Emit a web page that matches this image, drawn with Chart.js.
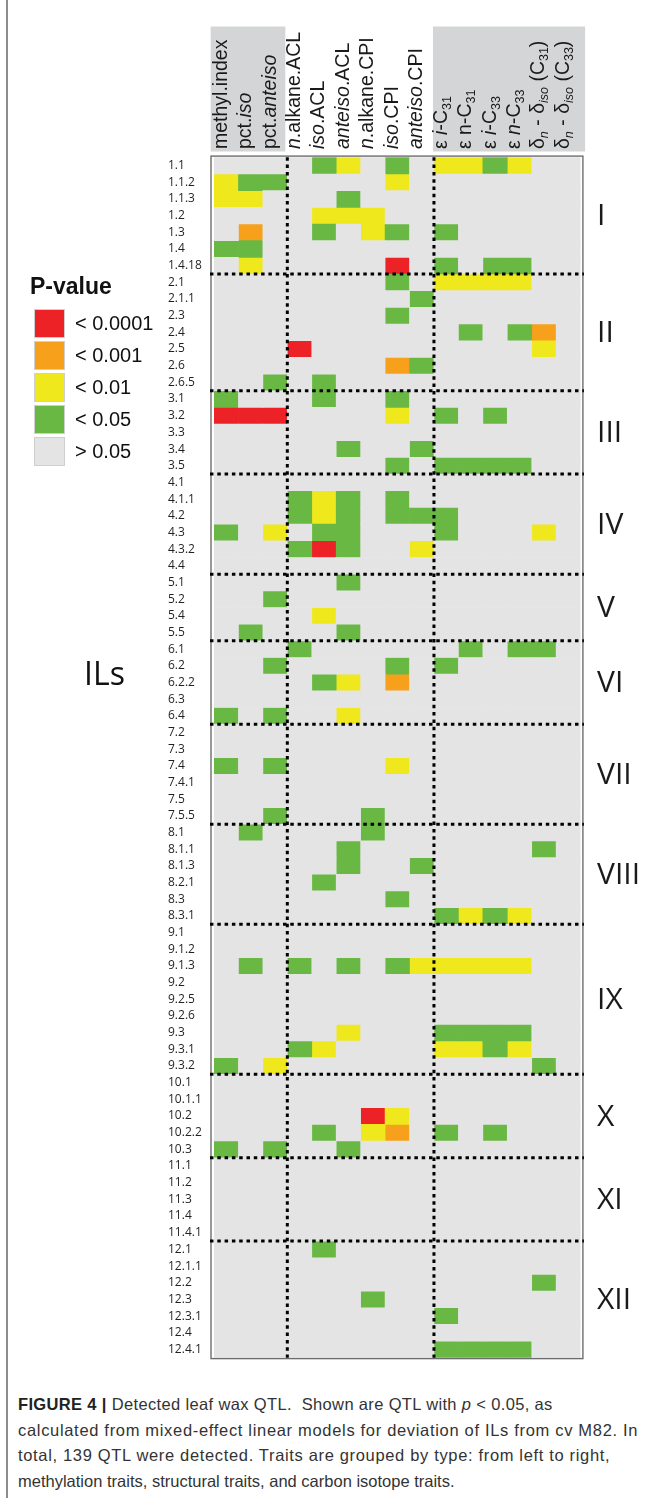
<!DOCTYPE html>
<html>
<head>
<meta charset="utf-8">
<script src="https://cdn.jsdelivr.net/npm/chart.js@4"></script>
<style>
  html, body { margin: 0; padding: 0; background: #fff; }
  #page { position: relative; width: 655px; height: 1498px; overflow: hidden; }
  #frame { position: absolute; left: 6px; top: 0; width: 2px; height: 1498px; background: #8c8c8c; }
  #qtl { position: absolute; left: 0; top: 0; }
  #caption {
    position: absolute; left: 18px; top: 1392px; white-space: nowrap;
    font: 16.5px "Liberation Sans", Arial, sans-serif; line-height: 25.5px; color: #333;
  }
  #caption div { height: 25.5px; }
  #caption b { color: #222; }
  #caption .l1 { letter-spacing: 0.35px; }
  #caption .l2 { letter-spacing: 0.68px; }
  #caption .l3 { letter-spacing: 0.66px; }
</style>
</head>
<body>
<div id="page">
  <div id="frame"></div>
  <canvas id="qtl" width="655" height="1365"></canvas>
  <div id="caption">
    <div class="l1"><b>FIGURE 4 |</b> Detected leaf wax QTL.&nbsp; Shown are QTL with <i>p</i> &lt; 0.05, as</div>
    <div class="l2">calculated from mixed-effect linear models for deviation of ILs from cv M82. In</div>
    <div class="l3">total, 139 QTL were detected. Traits are grouped by type: from left to right,</div>
    <div class="l4">methylation traits, structural traits, and carbon isotope traits.</div>
  </div>
</div>
<script>
// Traits (columns); <i> and <sub> mark italic and subscript parts of a label
const traits = [
  'methyl.index', 'pct.<i>iso</i>', 'pct.<i>anteiso</i>',
  '<i>n</i>.alkane.ACL', '<i>iso</i>.ACL', '<i>anteiso</i>.ACL',
  '<i>n</i>.alkane.CPI', '<i>iso</i>.CPI', '<i>anteiso</i>.CPI',
  'ε <i>i</i>-C<sub>31</sub>', 'ε n-C<sub>31</sub>', 'ε <i>i</i>-C<sub>33</sub>', 'ε <i>n</i>-C<sub>33</sub>',
  'δ<sub><i>n</i></sub> - δ<sub><i>iso</i></sub> (C<sub>31</sub>)',
  'δ<sub><i>n</i></sub> - δ<sub><i>iso</i></sub> (C<sub>33</sub>)'
];

// Trait groups: methylation, structural, carbon isotope (number of columns each)
const traitGroups = [3, 6, 6];

// Introgression lines (rows)
const ils = [
  '1.1', '1.1.2', '1.1.3', '1.2', '1.3', '1.4', '1.4.18',
  '2.1', '2.1.1', '2.3', '2.4', '2.5', '2.6', '2.6.5',
  '3.1', '3.2', '3.3', '3.4', '3.5',
  '4.1', '4.1.1', '4.2', '4.3', '4.3.2', '4.4',
  '5.1', '5.2', '5.4', '5.5',
  '6.1', '6.2', '6.2.2', '6.3', '6.4',
  '7.2', '7.3', '7.4', '7.4.1', '7.5', '7.5.5',
  '8.1', '8.1.1', '8.1.3', '8.2.1', '8.3', '8.3.1',
  '9.1', '9.1.2', '9.1.3', '9.2', '9.2.5', '9.2.6', '9.3', '9.3.1', '9.3.2',
  '10.1', '10.1.1', '10.2', '10.2.2', '10.3',
  '11.1', '11.2', '11.3', '11.4', '11.4.1',
  '12.1', '12.1.1', '12.2', '12.3', '12.3.1', '12.4', '12.4.1'
];

// Chromosomes and how many ILs each holds
const chromosomes = ['I', 'II', 'III', 'IV', 'V', 'VI', 'VII', 'VIII', 'IX', 'X', 'XI', 'XII'];
const chromosomeSizes = [7, 7, 5, 6, 4, 5, 6, 6, 9, 5, 5, 7];

// P-value classes, index = code used in the significance rows
const pLevels = ['> 0.05', '< 0.05', '< 0.01', '< 0.001', '< 0.0001'];

// Significance class per IL (one digit per trait, same order as traits)
const significance = [
  '000012010221200', '211000020000000', '220001000000000', '000022200000000',
  '030010210100000', '110000000000000', '020000040101100',
  '000000010222200', '000000001000000', '000000010000000', '000000000010130',
  '000400000000020', '000000031000000', '001010000000000',
  '100010010000000', '444000020101000', '000000000000000', '000001001000000',
  '000000010111100',
  '000000000000000', '000121010000000', '000121011100000', '102011000100020',
  '000141002000000', '000000000000000',
  '000001000000000', '001000000000000', '000020000000000', '010001000000000',
  '000100000010110', '001000010100000', '000012030000000', '000000000000000',
  '101002000000000',
  '000000000000000', '000000000000000', '101000020000000', '000000000000000',
  '000000000000000', '001000100000000',
  '010000100000000', '000001000000010', '000001001000000', '000010000000000',
  '000000010000000', '000000000121200',
  '000000000000000', '000000000000000', '010101012222200', '000000000000000',
  '000000000000000', '000000000000000', '000002000111100', '000120000221200',
  '102000000000010',
  '000000000000000', '000000000000000', '000000420000000', '000010230101000',
  '101001000000000',
  '000000000000000', '000000000000000', '000000000000000', '000000000000000',
  '000000000000000',
  '000010000000000', '000000000000000', '000000000000010', '000000100000000',
  '000000000100000', '000000000000000', '000000000111100'
];

// ---- styling ----
const levelColors = ['#e4e4e4', '#6ab844', '#efe81c', '#f6a01c', '#ec2227'];
const headerShade = '#d3d5d6';
const textColor = '#1a1a1a';
const SANS = '"Liberation Sans", Arial, sans-serif';
const ROUND = '"Open Sans", sans-serif';

// one floating horizontal bar per cell, one dataset per P-value class
const datasets = pLevels.map((label, k) => {
  const data = [];
  ils.forEach((il, r) => {
    for (let c = 0; c < traits.length; c++) {
      if (Number(significance[r][c]) === k) data.push({ y: il, x: [c, c + 1] });
    }
  });
  return { label, data, backgroundColor: levelColors[k], borderWidth: 0 };
});

function parseRich(s) {
  const out = [];
  const re = /<(\/?)(i|sub)>/g;
  let italic = false, sub = false, last = 0, m;
  while ((m = re.exec(s))) {
    if (m.index > last) out.push({ t: s.slice(last, m.index), italic, sub });
    if (m[2] === 'i') italic = !m[1]; else sub = !m[1];
    last = re.lastIndex;
  }
  if (last < s.length) out.push({ t: s.slice(last), italic, sub });
  return out;
}

function dotted(ctx, x1, y1, x2, y2) {
  ctx.save();
  ctx.strokeStyle = '#000';
  ctx.lineWidth = 3;
  ctx.setLineDash([3.5, 3.8]);
  ctx.beginPath();
  ctx.moveTo(x1, y1);
  ctx.lineTo(x2, y2);
  ctx.stroke();
  ctx.restore();
}

const decorations = {
  id: 'decorations',
  afterDatasetsDraw(chart) {
    const { ctx, chartArea: a, scales: { x, y } } = chart;
    const rowH = (a.bottom - a.top) / ils.length;
    const boxL = a.left - 3, boxR = a.right + 2.3;

    // frame round the grid
    ctx.save();
    ctx.strokeStyle = '#6d6d6d';
    ctx.lineWidth = 1.4;
    ctx.strokeRect(boxL, a.top - 1.2, boxR - boxL, a.bottom - a.top + 2);
    ctx.restore();

    // trait-group separators
    let col = 0;
    traitGroups.slice(0, -1).forEach(n => {
      col += n;
      const px = x.getPixelForValue(col);
      dotted(ctx, px, a.top, px, a.bottom);
    });

    // chromosome separators and labels
    let row = 0;
    chromosomes.forEach((name, g) => {
      const start = row;
      row += chromosomeSizes[g];
      if (g < chromosomes.length - 1) {
        const py = y.getPixelForValue(row) - rowH / 2;
        dotted(ctx, boxL - 1, py, boxR + 1, py);
      }
      const cy = (y.getPixelForValue(start) + y.getPixelForValue(row - 1)) / 2;
      ctx.save();
      ctx.fillStyle = textColor;
      ctx.font = '30px ' + ROUND;
      ctx.textAlign = 'left';
      ctx.textBaseline = 'middle';
      ctx.fillText(name, 597, cy + 1);
      ctx.restore();
    });
  },
  beforeDraw(chart) {
    const { ctx, chartArea: a, scales: { x } } = chart;
    // header shading behind methylation and isotope trait names
    const g1 = traitGroups[0], g2 = traitGroups[0] + traitGroups[1];
    ctx.save();
    ctx.fillStyle = headerShade;
    ctx.fillRect(a.left - 3.3, 26.5, x.getPixelForValue(g1) - 2 - (a.left - 3.3), 125);
    ctx.fillRect(x.getPixelForValue(g2) - 1, 26.5, a.right + 4.5 - (x.getPixelForValue(g2) - 1), 125);
    ctx.restore();

    // rotated trait names
    traits.forEach((t, i) => {
      const cx = x.getPixelForValue(i + 0.5);
      ctx.save();
      ctx.translate(cx + 0.5, 149);
      ctx.rotate(-Math.PI / 2);
      ctx.fillStyle = textColor;
      ctx.textAlign = 'left';
      ctx.textBaseline = 'alphabetic';
      let off = 0;
      parseRich(t).forEach(seg => {
        ctx.font = (seg.italic ? 'italic ' : '') + (seg.sub ? 12.5 : 19.5) + 'px ' + SANS;
        ctx.fillText(seg.t, off, seg.sub ? 4 : 0);
        off += ctx.measureText(seg.t).width;
      });
      ctx.restore();
    });

    // legend
    ctx.save();
    ctx.fillStyle = '#111';
    ctx.font = 'bold 23px ' + SANS;
    ctx.textBaseline = 'alphabetic';
    ctx.fillText('P-value', 30, 294);
    ctx.font = '20px ' + SANS;
    for (let k = pLevels.length - 1, i = 0; k >= 0; k--, i++) {
      const top = 309 + i * 32;
      ctx.fillStyle = levelColors[k];
      ctx.fillRect(34, top, 31, 29);
      ctx.strokeStyle = '#cfcfcf';
      ctx.lineWidth = 1;
      ctx.strokeRect(34.5, top + 0.5, 30, 28);
      ctx.fillStyle = '#111';
      ctx.fillText(pLevels[k], 75, top + 21);
    }
    // row axis title
    ctx.font = '32px ' + ROUND;
    ctx.fillText('ILs', 84, 685);
    ctx.restore();
  }
};

new Chart(document.getElementById('qtl'), {
  type: 'bar',
  data: { labels: ils, datasets },
  options: {
    indexAxis: 'y',
    responsive: false,
    animation: false,
    grouped: false,
    barPercentage: 1,
    categoryPercentage: 1,
    layout: { padding: { left: 168, top: 157.3, right: 74.4, bottom: 5 } },
    plugins: { legend: { display: false }, tooltip: { enabled: false } },
    scales: {
      x: { type: 'linear', min: 0, max: traits.length, display: false },
      y: {
        type: 'category',
        grid: { display: false },
        border: { display: false },
        ticks: {
          autoSkip: false,
          crossAlign: 'far',
          padding: 0,
          color: '#231f20',
          font: { family: 'Open Sans', size: 12 }
        },
        afterFit(scale) { scale.width = 46; }
      }
    }
  },
  plugins: [decorations]
});
</script>
</body>
</html>
